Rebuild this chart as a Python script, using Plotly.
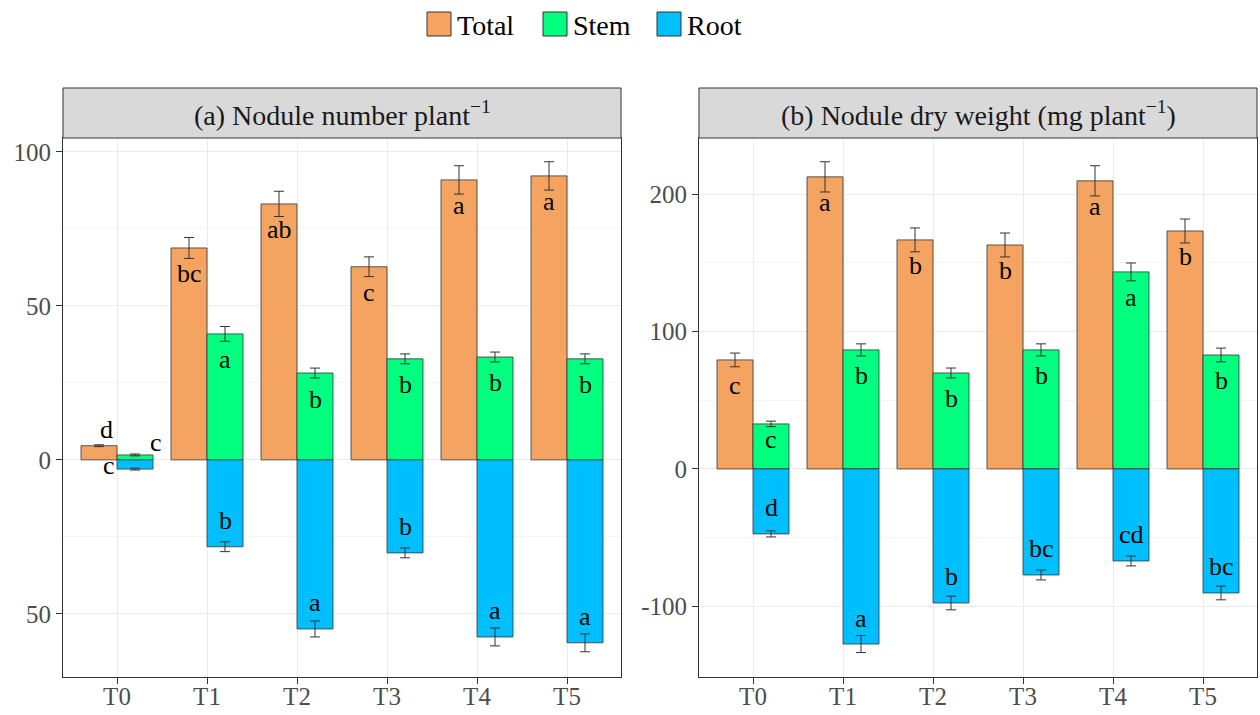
import plotly.graph_objects as go

# ---------------- data ----------------
treatments = ["T0", "T1", "T2", "T3", "T4", "T5"]

# (a) Nodule number per plant
num_total = [4.6, 68.8, 83.1, 62.7, 90.9, 92.2]
num_total_err = [0.3, 3.4, 4.1, 3.2, 4.6, 4.6]
num_stem = [1.6, 40.9, 28.2, 32.8, 33.4, 32.8]
num_stem_err = [0.3, 2.4, 1.6, 1.6, 1.6, 1.6]
num_root = [-3.0, -28.2, -54.9, -30.2, -57.5, -59.4]
num_root_err = [0.3, 1.6, 2.6, 1.6, 2.9, 2.9]
num_total_lab = ["d", "bc", "ab", "c", "a", "a"]
num_stem_lab = ["c", "a", "b", "b", "b", "b"]
num_root_lab = ["c", "b", "a", "b", "a", "a"]

# (b) Nodule dry weight (mg per plant)
dw_total = [79.4, 212.7, 166.8, 163.1, 209.8, 173.3]
dw_total_err = [5.0, 11.0, 8.7, 8.7, 11.0, 8.7]
dw_stem = [32.8, 86.7, 69.9, 86.7, 143.5, 83.0]
dw_stem_err = [2.0, 4.4, 3.6, 4.4, 6.5, 5.0]
dw_root = [-47.3, -127.5, -97.6, -77.2, -67.0, -90.3]
dw_root_err = [2.2, 6.2, 5.0, 3.6, 3.6, 5.0]
dw_total_lab = ["c", "a", "b", "b", "a", "b"]
dw_stem_lab = ["c", "b", "b", "b", "a", "b"]
dw_root_lab = ["d", "a", "b", "bc", "cd", "bc"]

series_names = ["Total", "Stem", "Root"]
a_ticks = [-50, 0, 50, 100]
a_ticktext = ["50", "0", "50", "100"]
a_minor = [-25, 25, 75]
b_ticks = [-100, 0, 100, 200]
b_ticktext = ["-100", "0", "100", "200"]
b_minor = [-50, 50, 150]
titles = ["(a) Nodule number plant<sup>\u22121</sup>",
          "(b) Nodule dry weight (mg plant<sup>\u22121</sup>)"]

# ---------------- style ----------------
W, H = 1260, 715
FONT = "Liberation Serif"
colors = {"Total": "#F4A460", "Stem": "#00FF7F", "Root": "#00BFFF"}
edge = "#333333"
grid = "#EBEBEB"
minor_grid = "#F4F4F4"
panel_px = [(63, 621), (699, 1257)]
plot_top, plot_bot = 138, 677
strip_top = 88
yranges = [[-70.5, 104.5], [-151.5, 241]]
half = 0.4
lab_shift = 26
# label overrides (xshift, yshift in px) for crowded small bars
special = {("a", "Total", 0): (7, 16), ("a", "Stem", 0): (21, 12),
           ("a", "Root", 0): (-26, 4), ("b", "Stem", 0): (0, -16)}


def px_x(p):
    return p / W


def px_y(p):
    return (H - p) / H


fig = go.Figure()
xs = list(range(len(treatments)))

panels = [
    ("a", [num_total, num_stem, num_root], [num_total_err, num_stem_err, num_root_err],
     [num_total_lab, num_stem_lab, num_root_lab]),
    ("b", [dw_total, dw_stem, dw_root], [dw_total_err, dw_stem_err, dw_root_err],
     [dw_total_lab, dw_stem_lab, dw_root_lab]),
]

annotations = []
shapes = []
for pi, (pid, vals, errs, labs) in enumerate(panels):
    xa = "x" if pi == 0 else "x2"
    ya = "y" if pi == 0 else "y2"
    for si, name in enumerate(series_names):
        offset = -half if name == "Total" else 0.0
        fig.add_trace(go.Bar(
            x=xs, y=vals[si], width=half, offset=offset,
            marker=dict(color=colors[name], line=dict(color=edge, width=0.8)),
            xaxis=xa, yaxis=ya, showlegend=False, name=name,
        ))
    for si, name in enumerate(series_names):
        cx = [x + (-half / 2 if name == "Total" else half / 2) for x in xs]
        fig.add_trace(go.Scatter(
            x=cx, y=vals[si], mode="markers",
            marker=dict(size=1, color="rgba(0,0,0,0)"),
            error_y=dict(type="data", array=errs[si], visible=True,
                         color=edge, thickness=1, width=5),
            xaxis=xa, yaxis=ya, showlegend=False, hoverinfo="skip",
        ))
        for i, v in enumerate(vals[si]):
            if (pid, name, i) in special:
                dx, ys = special[(pid, name, i)]
            else:
                dx, ys = 0, (-lab_shift if v > 0 else lab_shift)
            annotations.append(dict(
                x=cx[i], y=v, xref=xa, yref=ya, text=labs[si][i],
                showarrow=False, xshift=dx, yshift=ys,
                font=dict(family=FONT, size=26, color="black"),
                xanchor="center", yanchor="middle",
            ))
    # strip
    x0, x1 = panel_px[pi]
    shapes.append(dict(type="rect", xref="paper", yref="paper",
                       x0=px_x(x0), x1=px_x(x1), y0=px_y(plot_top), y1=px_y(strip_top),
                       fillcolor="#D9D9D9", line=dict(color=edge, width=1)))
    annotations.append(dict(x=px_x((x0 + x1) / 2), y=px_y((plot_top + strip_top) / 2),
                            xref="paper", yref="paper", text=titles[pi], showarrow=False,
                            font=dict(family=FONT, size=28, color="#1A1A1A"),
                            xanchor="center", yanchor="middle"))

# legend (drawn manually)
leg_items = [("Total", 427), ("Stem", 543), ("Root", 657)]
for name, lx in leg_items:
    shapes.append(dict(type="rect", xref="paper", yref="paper",
                       x0=px_x(lx), x1=px_x(lx + 24), y0=px_y(36), y1=px_y(12),
                       fillcolor=colors[name], line=dict(color=edge, width=1)))
    annotations.append(dict(x=px_x(lx + 28), y=px_y(25), xref="paper", yref="paper",
                            text=name, showarrow=False, xanchor="left", yanchor="middle",
                            font=dict(family=FONT, size=28, color="black")))

axis_common = dict(showline=True, mirror=True, linecolor=edge, linewidth=1,
                   ticks="outside", ticklen=6, tickcolor=edge, tickwidth=1,
                   tickfont=dict(family=FONT, size=25, color="#4D4D4D"),
                   showgrid=True, gridcolor=grid, gridwidth=1, zeroline=False,
                   automargin=False)

fig.update_layout(
    width=W, height=H, margin=dict(l=0, r=0, t=0, b=0),
    template="none", paper_bgcolor="white", plot_bgcolor="white",
    barmode="overlay", showlegend=False,
    xaxis=dict(domain=[px_x(63), px_x(621)], range=[-0.6, 5.6],
               tickvals=xs, ticktext=treatments, anchor="y",
               ticklabelstandoff=-9, **axis_common),
    xaxis2=dict(domain=[px_x(699), px_x(1257)], range=[-0.6, 5.6],
                tickvals=xs, ticktext=treatments, anchor="y2",
                ticklabelstandoff=-9, **axis_common),
    yaxis=dict(domain=[px_y(plot_bot), px_y(plot_top)], range=yranges[0],
               tickvals=a_ticks, ticktext=a_ticktext, anchor="x",
               minor=dict(tickvals=a_minor, showgrid=True, gridcolor=minor_grid, ticks=""),
               **axis_common),
    yaxis2=dict(domain=[px_y(plot_bot), px_y(plot_top)], range=yranges[1],
                tickvals=b_ticks, ticktext=b_ticktext, anchor="x2",
                minor=dict(tickvals=b_minor, showgrid=True, gridcolor=minor_grid, ticks=""),
                **axis_common),
    annotations=annotations, shapes=shapes,
)

fig.write_html("out.html", config={"displayModeBar": False},
               post_script="document.body.style.margin='0px';document.body.style.overflow='hidden';")
